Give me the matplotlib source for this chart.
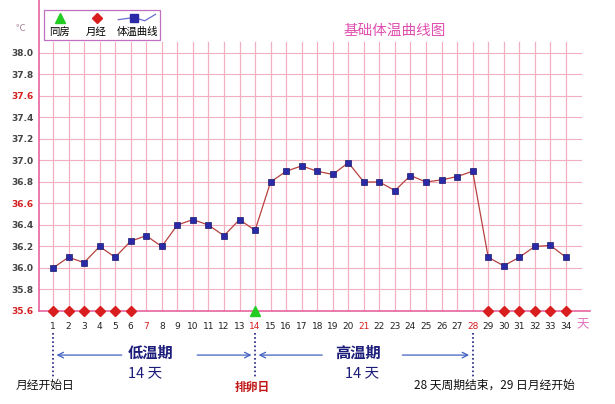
import matplotlib.pyplot as plt

plt.rcParams['font.family'] = ['Noto Sans CJK SC', 'DejaVu Sans']

days = list(range(1, 35))
temps = [36.0, 36.1, 36.05, 36.2, 36.1, 36.25, 36.3, 36.2, 36.4, 36.45,
         36.4, 36.3, 36.45, 36.35, 36.8, 36.9, 36.95, 36.9, 36.87, 36.98,
         36.8, 36.8, 36.72, 36.86, 36.8, 36.82, 36.85, 36.9, 36.1, 36.02,
         36.1, 36.2, 36.21, 36.1]
period_days = [1, 2, 3, 4, 5, 6, 29, 30, 31, 32, 33, 34]
sex_days = [14]
yticks = [35.6, 35.8, 36.0, 36.2, 36.4, 36.6, 36.8, 37.0, 37.2, 37.4, 37.6, 37.8, 38.0]
red_yticks = [35.6, 36.6, 37.6]
red_xticks = [7, 14, 21, 28]

pink = '#e8629e'
grid_pink = '#f0b0c0'
navy = '#1c1c7a'

fig = plt.figure(figsize=(6.15, 4.04), dpi=100)
ax = fig.add_axes([39 / 615, 93 / 404, 551 / 615, 311 / 404])
ax.set_xlim(0.1, 35.55)
ax.set_ylim(35.6, 38.493)

# grid
for d in days:
    ax.plot([d, d], [35.6, 38.1], color=grid_pink, lw=0.9, zorder=1)
for y in yticks[1:]:
    ax.plot([0.1, 35.0], [y, y], color=grid_pink, lw=0.8, zorder=1)

for s in ['top', 'right']:
    ax.spines[s].set_visible(False)
ax.spines['left'].set_color(pink)
ax.spines['bottom'].set_color(pink)
ax.spines['left'].set_linewidth(1.2)
ax.spines['bottom'].set_linewidth(1.2)

# temperature curve
ax.plot(days, temps, color='#b84040', lw=0.9, zorder=3)
ax.plot(days, temps, ls='none', marker='s', ms=4.5, color='#2a2aa8',
        markeredgecolor='#18186a', mew=0.5, zorder=4)

# markers on axis
ax.plot(period_days, [35.6] * len(period_days), ls='none', marker='D', ms=5,
        color='#d81e1e', clip_on=False, zorder=5)
ax.plot(sex_days, [35.6] * len(sex_days), ls='none', marker='^', ms=7,
        color='#22cc22', clip_on=False, zorder=5)

# ticks
ax.set_yticks(yticks)
ax.set_yticklabels([f'{v:.1f}' for v in yticks], fontsize=6.5, fontweight='bold',
                   family='DejaVu Sans')
for lab, v in zip(ax.get_yticklabels(), yticks):
    lab.set_color('#d42020' if v in red_yticks else '#444444')
ax.set_xticks(days)
ax.set_xticklabels([str(d) for d in days], fontsize=6.5, family='DejaVu Sans')
for lab, d in zip(ax.get_xticklabels(), days):
    lab.set_color('#d42020' if d in red_xticks else '#222222')
ax.tick_params(axis='both', length=0)
ax.tick_params(axis='x', pad=8)
ax.tick_params(axis='y', pad=4)

ax.text(35.05, 35.47, '天', color='#e070c0', fontsize=9, ha='center', va='center', clip_on=False)
ax.text(-1.1, 38.23, '℃', color='#aa8899', fontsize=7, ha='center', va='center', clip_on=False)
ax.text(23.0, 38.21, '基础体温曲线图', color='#e050b0', fontsize=10.5, ha='center', va='center')

# legend box
ax.add_patch(plt.Rectangle((0.42, 38.12), 7.46, 0.28, fill=False, ec='#c070c0', lw=0.9,
                           clip_on=False, zorder=5))
ax.plot([1.45], [38.33], marker='^', ms=6.5, color='#22cc22', clip_on=False)
ax.text(1.45, 38.2, '同房', fontsize=7.5, ha='center', va='center')
ax.plot([3.8], [38.33], marker='D', ms=5, color='#d81e1e', clip_on=False)
ax.text(3.8, 38.2, '月经', fontsize=7.5, ha='center', va='center')
ax.plot([5.2, 6.2, 6.9, 7.6], [38.31, 38.33, 38.30, 38.36], color='#6a6ad0', lw=0.9, clip_on=False)
ax.plot([6.2], [38.33], marker='s', ms=5.5, color='#2a2aa8', clip_on=False)
ax.text(6.45, 38.2, '体温曲线', fontsize=7.5, ha='center', va='center')

# phase annotations below the axis
for d in [1, 14, 28]:
    ax.plot([d, d], [35.395, 34.977], color=navy, lw=1.2, ls=(0, (1, 1.5)), clip_on=False)
arrow = dict(arrowstyle='->', color='#4060c0', lw=0.9)
ax.annotate('', xy=(1.05, 35.19), xytext=(5.6, 35.19), arrowprops=arrow, annotation_clip=False)
ax.annotate('', xy=(13.95, 35.19), xytext=(10.1, 35.19), arrowprops=arrow, annotation_clip=False)
ax.annotate('', xy=(14.05, 35.19), xytext=(18.5, 35.19), arrowprops=arrow, annotation_clip=False)
ax.annotate('', xy=(27.95, 35.19), xytext=(23.3, 35.19), arrowprops=arrow, annotation_clip=False)
ax.text(7.3, 35.21, '低温期', color=navy, fontsize=11, fontweight='bold', ha='center', va='center', clip_on=False)
ax.text(20.6, 35.21, '高温期', color=navy, fontsize=11, fontweight='bold', ha='center', va='center', clip_on=False)
ax.text(6.9, 35.02, '14 天', color=navy, fontsize=10.5, ha='center', va='center', clip_on=False)
ax.text(20.9, 35.02, '14 天', color=navy, fontsize=10.5, ha='center', va='center', clip_on=False)
ax.text(0.5, 34.91, '月经开始日', color='#111111', fontsize=8.5, ha='center', va='center', clip_on=False)
ax.text(13.8, 34.89, '排卵日', color='#c01818', fontsize=8.5, fontweight='bold', ha='center', va='center', clip_on=False)
ax.text(29.4, 34.91, '28 天周期结束，29 日月经开始', color='#111111', fontsize=8.5, ha='center', va='center', clip_on=False)

fig.savefig('out.png', dpi=100, facecolor='white')
